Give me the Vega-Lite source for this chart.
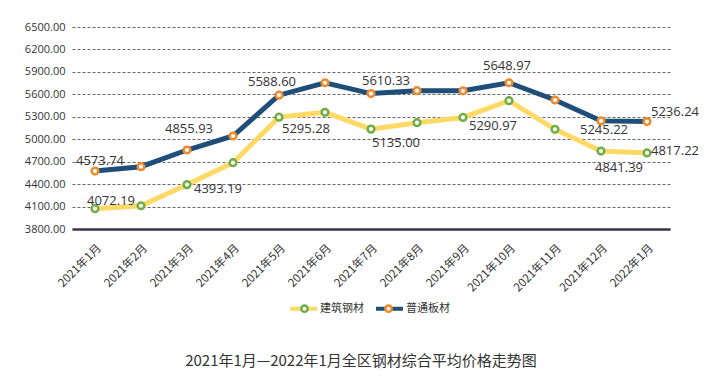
{
  "$schema": "https://vega.github.io/schema/vega-lite/v6.json",
  "autosize": {"type": "none"},
  "padding": {"left": 72, "top": 27, "right": 50, "bottom": 147},
  "width": 598,
  "height": 202,
  "background": "white",
  "config": {
    "font": "Open Sans, Noto Sans CJK SC, sans-serif",
    "view": {"stroke": null}
  },
  "title": {
    "text": "2021年1月—2022年1月全区钢材综合平均价格走势图",
    "orient": "bottom",
    "anchor": "middle",
    "fontSize": 15,
    "fontWeight": "normal",
    "color": "#333333",
    "font": "Noto Sans CJK SC",
    "offset": 37,
    "dx": -10
  },
  "data": {
    "values": [
      {"month": "2021年1月", "series": "建筑钢材", "value": 4072.19, "label": "4072.19"},
      {"month": "2021年2月", "series": "建筑钢材", "value": 4111, "label": ""},
      {"month": "2021年3月", "series": "建筑钢材", "value": 4393.19, "label": "4393.19"},
      {"month": "2021年4月", "series": "建筑钢材", "value": 4686, "label": ""},
      {"month": "2021年5月", "series": "建筑钢材", "value": 5295.28, "label": "5295.28"},
      {"month": "2021年6月", "series": "建筑钢材", "value": 5359, "label": ""},
      {"month": "2021年7月", "series": "建筑钢材", "value": 5135.00, "label": "5135.00"},
      {"month": "2021年8月", "series": "建筑钢材", "value": 5221, "label": ""},
      {"month": "2021年9月", "series": "建筑钢材", "value": 5290.97, "label": "5290.97"},
      {"month": "2021年10月", "series": "建筑钢材", "value": 5515, "label": ""},
      {"month": "2021年11月", "series": "建筑钢材", "value": 5132, "label": ""},
      {"month": "2021年12月", "series": "建筑钢材", "value": 4841.39, "label": "4841.39"},
      {"month": "2022年1月", "series": "建筑钢材", "value": 4817.22, "label": "4817.22"},
      {"month": "2021年1月", "series": "普通板材", "value": 4573.74, "label": "4573.74"},
      {"month": "2021年2月", "series": "普通板材", "value": 4633, "label": ""},
      {"month": "2021年3月", "series": "普通板材", "value": 4855.93, "label": "4855.93"},
      {"month": "2021年4月", "series": "普通板材", "value": 5043, "label": ""},
      {"month": "2021年5月", "series": "普通板材", "value": 5588.60, "label": "5588.60"},
      {"month": "2021年6月", "series": "普通板材", "value": 5755, "label": ""},
      {"month": "2021年7月", "series": "普通板材", "value": 5610.33, "label": "5610.33"},
      {"month": "2021年8月", "series": "普通板材", "value": 5649, "label": ""},
      {"month": "2021年9月", "series": "普通板材", "value": 5647, "label": ""},
      {"month": "2021年10月", "series": "普通板材", "value": 5755, "label": "5648.97"},
      {"month": "2021年11月", "series": "普通板材", "value": 5524, "label": ""},
      {"month": "2021年12月", "series": "普通板材", "value": 5245.22, "label": "5245.22"},
      {"month": "2022年1月", "series": "普通板材", "value": 5236.24, "label": "5236.24"}
    ]
  },
  "encoding": {
    "x": {
      "field": "month", "type": "ordinal", "sort": null,
      "scale": {"type": "point", "padding": 0.5},
      "axis": {
        "title": null, "labelAngle": -45, "labelFontSize": 11.5, "labelColor": "#333333",
        "labelFont": "Noto Sans CJK SC",
        "ticks": false, "domain": true, "domainColor": "#3d3343", "domainWidth": 2.5,
        "labelPadding": 13, "grid": false
      }
    },
    "y": {
      "field": "value", "type": "quantitative",
      "scale": {"domain": [3800, 6500], "nice": false, "zero": false},
      "axis": {
        "title": null, "values": [3800, 4100, 4400, 4700, 5000, 5300, 5600, 5900, 6200, 6500],
        "format": ".2f", "labelFontSize": 11, "labelColor": "#333333",
        "ticks": false, "domain": false, "labelPadding": 7,
        "grid": true, "gridColor": "#666666", "gridDash": [3, 2], "gridWidth": 1
      }
    }
  },
  "layer": [
    {
      "mark": {"type": "line", "strokeWidth": 5, "strokeCap": "butt"},
      "encoding": {
        "color": {
          "field": "series", "type": "nominal",
          "scale": {"domain": ["建筑钢材", "普通板材"], "range": ["#FFD966", "#1F4E79"]},
          "legend": {
            "title": null, "orient": "none", "legendX": 216, "legendY": 266,
            "direction": "horizontal", "symbolType": "stroke", "symbolStrokeWidth": 4,
            "symbolSize": 729, "labelFontSize": 11, "labelColor": "#333333",
            "labelFont": "Noto Sans CJK SC", "labelOffset": 1, "columnPadding": 4,
            "padding": 0, "zindex": 1
          }
        }
      }
    },
    {
      "mark": {"type": "point", "filled": false, "fill": "white", "fillOpacity": 1, "strokeWidth": 2.5, "size": 45, "opacity": 1},
      "encoding": {
        "stroke": {
          "field": "series", "type": "nominal",
          "scale": {"domain": ["建筑钢材", "普通板材"], "range": ["#70AD47", "#ED8A2B"]},
          "legend": {
            "title": null, "orient": "none", "legendX": 227, "legendY": 276,
            "direction": "horizontal", "symbolType": "circle", "symbolStrokeWidth": 2.5,
            "symbolFillColor": "white", "symbolSize": 40, "labelFontSize": 11,
            "labelExpr": "''", "labelFont": "Noto Sans CJK SC",
            "labelOffset": 66, "columnPadding": 4, "padding": 0, "zindex": 2
          }
        }
      }
    },
    {"transform": [{"filter": "datum.label == '4573.74'"}], "mark": {"type": "text", "dx": 5, "dy": -10, "fontSize": 13, "color": "#333333"}, "encoding": {"text": {"field": "label"}}},
    {"transform": [{"filter": "datum.label == '4072.19'"}], "mark": {"type": "text", "dx": 16, "dy": -8, "fontSize": 13, "color": "#333333"}, "encoding": {"text": {"field": "label"}}},
    {"transform": [{"filter": "datum.label == '4855.93'"}], "mark": {"type": "text", "dx": 2, "dy": -21, "fontSize": 13, "color": "#333333"}, "encoding": {"text": {"field": "label"}}},
    {"transform": [{"filter": "datum.label == '4393.19'"}], "mark": {"type": "text", "dx": 31, "dy": 4, "fontSize": 13, "color": "#333333"}, "encoding": {"text": {"field": "label"}}},
    {"transform": [{"filter": "datum.label == '5588.60'"}], "mark": {"type": "text", "dx": -7, "dy": -13, "fontSize": 13, "color": "#333333"}, "encoding": {"text": {"field": "label"}}},
    {"transform": [{"filter": "datum.label == '5295.28'"}], "mark": {"type": "text", "dx": 27, "dy": 12, "fontSize": 13, "color": "#333333"}, "encoding": {"text": {"field": "label"}}},
    {"transform": [{"filter": "datum.label == '5610.33'"}], "mark": {"type": "text", "dx": 15, "dy": -13, "fontSize": 13, "color": "#333333"}, "encoding": {"text": {"field": "label"}}},
    {"transform": [{"filter": "datum.label == '5135.00'"}], "mark": {"type": "text", "dx": 25, "dy": 14, "fontSize": 13, "color": "#333333"}, "encoding": {"text": {"field": "label"}}},
    {"transform": [{"filter": "datum.label == '5290.97'"}], "mark": {"type": "text", "dx": 30, "dy": 9, "fontSize": 13, "color": "#333333"}, "encoding": {"text": {"field": "label"}}},
    {"transform": [{"filter": "datum.label == '5648.97'"}], "mark": {"type": "text", "dx": -2, "dy": -17, "fontSize": 13, "color": "#333333"}, "encoding": {"text": {"field": "label"}}},
    {"transform": [{"filter": "datum.label == '5245.22'"}], "mark": {"type": "text", "dx": 3, "dy": 9, "fontSize": 13, "color": "#333333"}, "encoding": {"text": {"field": "label"}}},
    {"transform": [{"filter": "datum.label == '4841.39'"}], "mark": {"type": "text", "dx": 18, "dy": 17, "fontSize": 13, "color": "#333333"}, "encoding": {"text": {"field": "label"}}},
    {"transform": [{"filter": "datum.label == '5236.24'"}], "mark": {"type": "text", "dx": 28, "dy": -10, "fontSize": 13, "color": "#333333"}, "encoding": {"text": {"field": "label"}}},
    {"transform": [{"filter": "datum.label == '4817.22'"}], "mark": {"type": "text", "dx": 28, "dy": -2, "fontSize": 13, "color": "#333333"}, "encoding": {"text": {"field": "label"}}}
  ],
  "resolve": {"scale": {"color": "independent", "stroke": "independent"}}
}
